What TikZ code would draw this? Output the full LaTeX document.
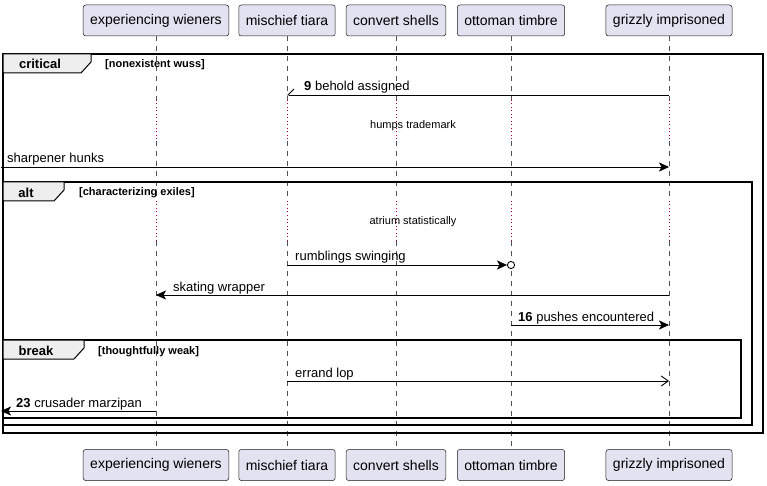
\documentclass[tikz,border=0pt]{standalone}
\usepackage{fontspec}
\setmainfont{Liberation Sans}
\usetikzlibrary{arrows.meta, calc}

\definecolor{partfill}{HTML}{E2E2F0}
\definecolor{partline}{HTML}{181818}
\definecolor{tabfill}{HTML}{EEEEEE}
\definecolor{delayred}{HTML}{A80036}

\begin{document}
\begin{tikzpicture}[x=1pt, y=-1pt,
    part/.style={draw=partline, fill=partfill, rounded corners=2.5pt,
      minimum height=31pt, inner xsep=7pt, line width=0.5pt,
      font=\fontsize{14}{16}\selectfont},
    life/.style={draw=partline!75, dash pattern=on 5pt off 5pt, line width=0.5pt},
    delayline/.style={draw=delayred, dash pattern=on 1pt off 2.5pt, line width=1pt},
    msg/.style={line width=0.9pt, -{Stealth[length=10pt,width=9pt,inset=2.5pt,line width=0.5pt]}},
    thinmsg/.style={line width=0.9pt, -{Straight Barb[length=7pt,width=10pt]}},
    halfmsg/.style={line width=0.9pt, -{Straight Barb[right,length=6pt,width=12pt]}},
    lbl/.style={anchor=base west, inner sep=0pt, font=\fontsize{13}{15}\selectfont},
    delaytxt/.style={inner sep=0pt, font=\fontsize{11}{13}\selectfont},
    frame/.style={draw=black, line width=1.5pt},
    tab/.style={draw=black, line width=1pt, fill=tabfill},
    tabtxt/.style={anchor=base, inner sep=0pt, font=\bfseries\fontsize{13}{15}\selectfont},
    guard/.style={anchor=base west, inner sep=0pt, font=\bfseries\fontsize{11}{13}\selectfont}]

  \useasboundingbox (0,0) rectangle (767,486);

  % rows of the messages and delays
  \foreach \n/\y in {behold/95, hunks/167, rumble/265, skate/295, pushes/325,
      errand/381, crusade/411, delayAa/100, delayAb/141, delayBa/201, delayBb/241}
    \coordinate (\n) at (0,\y);
  \coordinate (edge) at (1,0);

  % participants
  \foreach \p/\x/\t in {wieners/156/experiencing wieners, tiara/287/mischief tiara,
      shells/396/convert shells, timbre/511/ottoman timbre, grizzly/669/grizzly imprisoned} {
    \node[part] (\p) at (\x,20.5) {\t};
    \node[part] (\p B) at (\x,465) {\t};
  }

  % lifelines
  \foreach \p in {wieners,tiara,shells,timbre,grizzly} {
    \draw[life] (\p.south) -- (\p |- delayAa);
    \draw[delayline] (\p |- delayAa) -- (\p |- delayAb);
    \draw[life] (\p |- delayAb) -- (\p |- delayBa);
    \draw[delayline] (\p |- delayBa) -- (\p |- delayBb);
    \draw[life] (\p |- delayBb) -- (\p B.north);
  }

  % critical
  \draw[frame] (3,54) rectangle (763,433);
  \draw[tab] (3,54) -- (91,54) -- (91,62) -- (81,73) -- (3,73) -- cycle;
  \node[tabtxt] (critical) at (40,69) {critical};
  \node[guard] (critguard) at (105,68) {[nonexistent wuss]};

  \draw[halfmsg] (grizzly |- behold) -- (tiara |- behold);
  \node[lbl] (beholdtxt) at (304,91) {{\bfseries 9} behold assigned};
  \node[delaytxt] (humps) at (413,126) {humps trademark};
  \draw[msg] (edge |- hunks) -- (grizzly |- hunks);
  \node[lbl] (hunkstxt) at (7,163) {sharpener hunks};

  % alt
  \draw[frame] (3,182) rectangle (752,425);
  \draw[tab] (3,182) -- (64,182) -- (64,190) -- (54,201) -- (3,201) -- cycle;
  \node[tabtxt] (alt) at (26,197) {alt};
  \node[guard] (altguard) at (79,196) {[characterizing exiles]};

  \node[delaytxt] (atrium) at (413,222) {atrium statistically};
  \draw[msg, shorten >=4pt] (tiara |- rumble) -- (timbre |- rumble);
  \draw[line width=0.9pt, fill=white] (timbre |- rumble) circle (3.6pt);
  \node[lbl] (rumbletxt) at (295,260) {rumblings swinging};
  \draw[msg] (grizzly |- skate) -- (wieners |- skate);
  \node[lbl] (skatetxt) at (173,291) {skating wrapper};
  \draw[msg] (timbre |- pushes) -- (grizzly |- pushes);
  \node[lbl] (pushestxt) at (518,321) {{\bfseries 16} pushes encountered};

  % break
  \draw[frame] (3,340) rectangle (741,418);
  \draw[tab] (3,340) -- (84,340) -- (84,348) -- (74,359) -- (3,359) -- cycle;
  \node[tabtxt] (break) at (36,355) {break};
  \node[guard] (breakguard) at (98,354) {[thoughtfully weak]};

  \draw[thinmsg] (tiara |- errand) -- (grizzly |- errand);
  \node[lbl] (errandtxt) at (295,377) {errand lop};
  \draw[msg] (wieners |- crusade) -- (edge |- crusade);
  \node[lbl] (crusadetxt) at (16,407) {{\bfseries 23} crusader marzipan};
\end{tikzpicture}
\end{document}
